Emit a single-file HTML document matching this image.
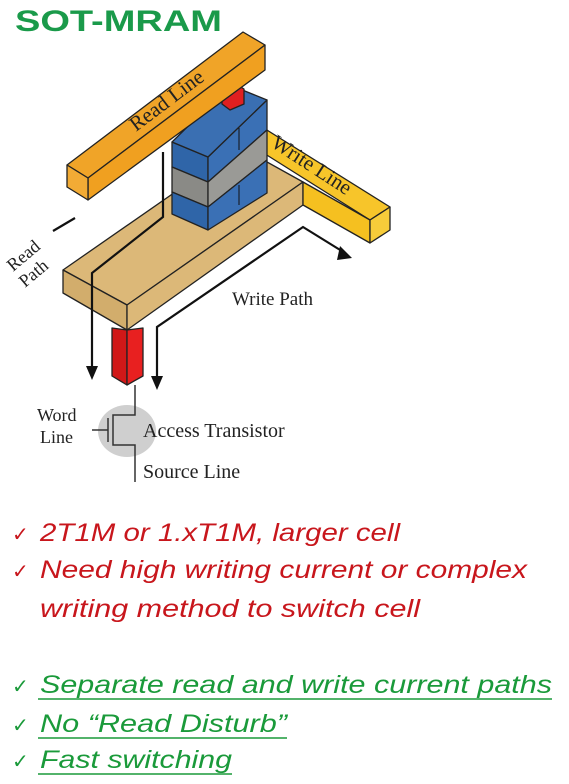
<!DOCTYPE html>
<html><head><meta charset="utf-8"><style>
html,body{margin:0;padding:0;background:#fff;}
svg{display:block}
</style></head><body>
<svg width="569" height="784" viewBox="0 0 569 784" xmlns="http://www.w3.org/2000/svg">
<text x="15" y="31" font-family="Liberation Sans, sans-serif" font-weight="bold" font-size="30" fill="#1a9a4a" textLength="207" lengthAdjust="spacingAndGlyphs">SOT-MRAM</text>
<g stroke="#222" stroke-width="1.3" stroke-linejoin="round">
<polygon points="63,270 240,147 303,182 127,305" fill="#dcb878"/>
<polygon points="63,270 127,305 127,330 63,293" fill="#d2ad6c"/>
<polygon points="127,305 303,182 303,205 127,330" fill="#dcb878"/>
<polygon points="262,127 390,207 370,220 262,152" fill="#f7c52a"/>
<polygon points="303,182 370,220 370,243 303,205" fill="#f5c020"/>
<polygon points="370,220 390,207 390,230 370,243" fill="#f7cc3a"/>
<polygon points="172,142 208,157 208,182 172,167" fill="#2f65a8"/>
<polygon points="172,167 208,182 208,207 172,192" fill="#8a8a86"/>
<polygon points="172,192 208,207 208,230 172,214" fill="#2f65a8"/>
<polygon points="208,157 267,100 267,130 208,182" fill="#3a70b5"/>
<polygon points="208,182 267,130 267,160 208,207" fill="#9a9a96"/>
<polygon points="208,207 267,160 267,193 208,230" fill="#3a70b5"/>
<polygon points="172,142 230,85 267,100 208,157" fill="#3a6fb2"/>
<polygon points="222,90 236,84 244,89 244,104 230,110 222,104" fill="#e02020"/>
<polygon points="67,165 243,32 265,45 88,178" fill="#f0a428"/>
<polygon points="88,178 265,45 265,70 88,200" fill="#f0a020"/>
<polygon points="67,165 88,178 88,200 67,187" fill="#f2ab35"/>
<polygon points="112,328 127,330 127,385 112,376" fill="#d01818"/>
<polygon points="127,330 143,328 143,376 127,385" fill="#e82020"/>
</g>
<line x1="239" y1="128" x2="239" y2="150" stroke="#111" stroke-width="1"/>
<line x1="239" y1="185" x2="239" y2="205" stroke="#111" stroke-width="1"/>
<text transform="translate(136,132) rotate(-37)" font-family="Liberation Serif, serif" font-size="21" fill="#222">Read Line</text>
<text transform="translate(270,146) rotate(33)" font-family="Liberation Serif, serif" font-size="21" fill="#222">Write Line</text>
<g stroke="#111" stroke-width="2.2" fill="none">
<polyline points="163,152 163,217 92,273 92,368"/>
<line x1="53" y1="231" x2="75" y2="218"/>
<polyline points="157,382 157,327 303,227 345,253"/>
</g>
<polygon points="86,366 98,366 92,380" fill="#111"/>
<polygon points="151,376 163,376 157,390" fill="#111"/>
<polygon points="340,246 352,258 337,260" fill="#111"/>
<text transform="translate(13,272) rotate(-40)" font-family="Liberation Serif, serif" font-size="18" fill="#222">Read</text>
<text transform="translate(25,288) rotate(-40)" font-family="Liberation Serif, serif" font-size="18" fill="#222">Path</text>
<text x="232" y="305" font-family="Liberation Serif, serif" font-size="19" fill="#222">Write Path</text>
<ellipse cx="127" cy="431" rx="29" ry="26" fill="#cfcfcf"/>
<g stroke="#333" stroke-width="1.5" fill="none">
<polyline points="135,385 135,415 113,415 113,445 135,445 135,482"/>
<line x1="108" y1="418" x2="108" y2="442"/>
<line x1="92" y1="430" x2="108" y2="430"/>
</g>
<g font-family="Liberation Serif, serif" font-size="18" fill="#222">
<text x="37" y="421">Word</text>
<text x="40" y="443">Line</text>
<text x="143" y="437" font-size="20">Access Transistor</text>
<text x="143" y="478" font-size="20">Source Line</text>
</g>
<g font-family="Liberation Sans, sans-serif" font-style="italic" font-size="25">
<g fill="#c8161c">
<text x="12" y="541" font-style="normal" font-size="20">✓</text>
<text x="40" y="541" textLength="360" lengthAdjust="spacingAndGlyphs">2T1M or 1.xT1M, larger cell</text>
<text x="12" y="578" font-style="normal" font-size="20">✓</text>
<text x="40" y="578" textLength="487" lengthAdjust="spacingAndGlyphs">Need high writing current or complex</text>
<text x="40" y="617" textLength="380" lengthAdjust="spacingAndGlyphs">writing method to switch cell</text>
</g>
<g fill="#1a9a3a">
<text x="12" y="693" font-style="normal" font-size="20">✓</text>
<text x="40" y="693" textLength="512" lengthAdjust="spacingAndGlyphs">Separate read and write current paths</text>
<text x="12" y="732" font-style="normal" font-size="20">✓</text>
<text x="40" y="732" textLength="247" lengthAdjust="spacingAndGlyphs">No “Read Disturb”</text>
<text x="12" y="768" font-style="normal" font-size="20">✓</text>
<text x="40" y="768" textLength="192" lengthAdjust="spacingAndGlyphs">Fast switching</text>
</g>
</g>
<g stroke="#1a9a3a" stroke-width="1.6">
<line x1="38" y1="699" x2="552" y2="699"/>
<line x1="38" y1="738" x2="287" y2="738"/>
<line x1="38" y1="774" x2="232" y2="774"/>
</g>
</svg>
</body></html>
